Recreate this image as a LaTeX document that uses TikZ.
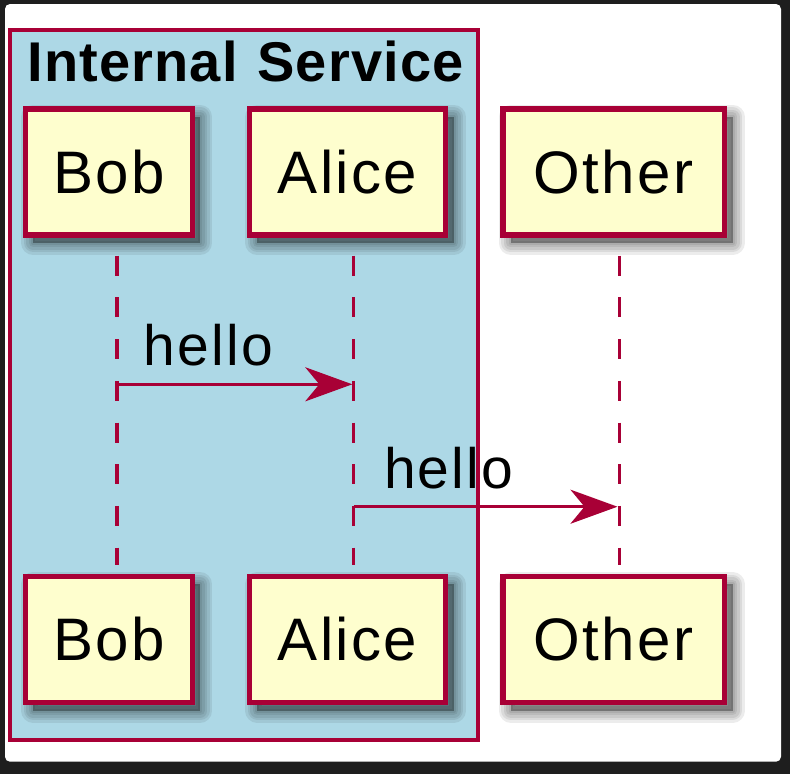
\documentclass[tikz,border=0pt]{standalone}
\usepackage{fontspec}
\setmainfont{Liberation Sans}
\newfontfamily\umlfont[LetterSpace=4]{Liberation Sans}
\newfontfamily\titlefont[LetterSpace=2]{Liberation Sans}
\usepackage{tikz}
\usetikzlibrary{arrows.meta}
\definecolor{lineRed}{HTML}{A80036}
\definecolor{boxFill}{HTML}{FEFECE}
\definecolor{groupBlue}{HTML}{ADD8E6}
\definecolor{darkBack}{HTML}{1E1E1E}

\begin{document}
\begin{tikzpicture}[x=1pt,y=-1pt,
  shade layer/.style={preaction={draw=black,fill=black,opacity=0.075,line width=#1,line join=round,
    transform canvas={xshift=8pt,yshift=-8pt}}},
  actor/.style={shade layer=24pt,shade layer=19pt,shade layer=14pt,shade layer=9pt,shade layer=4pt,
    draw=lineRed,fill=boxFill,line width=5.5pt,minimum height=126.2pt,inner sep=0pt,
    font=\umlfont\fontsize{60}{62}\selectfont},
  life/.style={lineRed,line width=3.5pt,dash pattern=on 20pt off 21.7pt},
  msg/.style={lineRed,line width=3pt,-{Stealth[length=47pt,width=34pt,inset=14pt]}},
  lbl/.style={anchor=base west,inner sep=0pt,font=\umlfont\fontsize{57}{60}\selectfont}]
\useasboundingbox (0,0) rectangle (790,774);
\fill[darkBack] (0,0) rectangle (790,774);
\fill[white,rounded corners=5pt] (5,4) rectangle (781,761.7);
\draw[lineRed,line width=4pt,fill=groupBlue] (9.5,29.5) rectangle (478,739.5);
\node[anchor=base west,inner sep=0pt,font=\titlefont\bfseries\fontsize{56}{60}\selectfont] (title) at (27.5,81.7) {Internal\hspace{3pt} Service};
% participants
\node[actor,minimum width=166.8pt] (bobtop) at (108.85,171.85) {Bob};
\node[actor,minimum width=196.1pt] (alicetop) at (347.5,171.85) {Alice};
\node[actor,minimum width=221.8pt] (othertop) at (613.65,171.85) {Other};
\node[actor,minimum width=166.8pt] (bobbot) at (108.85,639.5) {Bob};
\node[actor,minimum width=196.1pt] (alicebot) at (347.5,639.5) {Alice};
\node[actor,minimum width=221.8pt] (otherbot) at (613.65,639.5) {Other};
% lifelines
\draw[life,shorten <=18pt,shorten >=8.3pt] ([xshift=7.9pt]bobtop.south) -- ([xshift=7.9pt]bobbot.north);
\draw[life,shorten <=18pt,shorten >=8.3pt] ([xshift=6pt]alicetop.south) -- ([xshift=6pt]alicebot.north);
\draw[life,shorten <=18pt,shorten >=8.3pt] ([xshift=5.6pt]othertop.south) -- ([xshift=5.6pt]otherbot.north);
% messages
\coordinate (bobmsg) at (116.7,384.3);
\coordinate (alicemsg) at (352.3,384.3);
\coordinate (alicesend) at (353.5,506.7);
\coordinate (othermsg) at (617.5,506.7);
\draw[msg] (bobmsg) -- (alicemsg);
\draw[msg] (alicesend) -- (othermsg);
\node[lbl] (hello1) at (143.5,365) {hello};
\node[lbl] (hello2) at (383.8,488.3) {hello};
\end{tikzpicture}
\end{document}
